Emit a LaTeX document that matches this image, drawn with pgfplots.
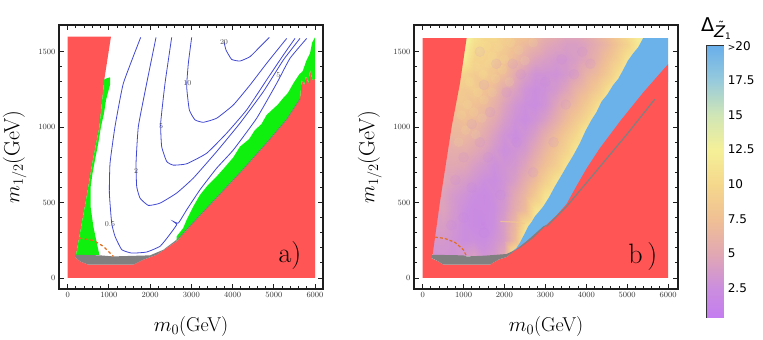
\documentclass[border=0pt]{standalone}
\usepackage{fontspec}
\usepackage{pgfplots}
\pgfplotsset{compat=1.18}
\newfontfamily\djv{DejaVu Sans}
\definecolor{cred}{RGB}{255,85,85}
\definecolor{cgreen}{RGB}{15,240,15}
\definecolor{cgray}{RGB}{128,128,128}
\definecolor{cblue}{RGB}{108,178,234}
\definecolor{ccont}{RGB}{65,72,210}
\definecolor{corange}{RGB}{226,110,30}
\definecolor{cframe}{RGB}{30,30,30}
\definecolor{cyel}{RGB}{248,238,150}
\definecolor{cpur}{RGB}{196,130,235}
\definecolor{cstreak}{RGB}{245,200,140}
\tikzset{clab/.style={font=\fontsize{7.5}{8}\selectfont,text=black!70,inner sep=0pt}}
\pgfplotsset{
  colormap={dz}{rgb255(36)=(196,125,240) rgb255(250)=(203,142,222) rgb255(500)=(226,168,178)
    rgb255(750)=(240,192,148) rgb255(1000)=(245,216,140) rgb255(1250)=(245,240,152)
    rgb255(1500)=(208,230,182) rgb255(1750)=(150,202,220) rgb255(2000)=(105,175,235)},
  panel/.style={
    scale only axis, width=264pt, height=264pt, anchor=south west,
    xmin=-211, ymin=-73, ymax=1677,
    xtick={0,1000,...,6000}, ytick={0,500,1000,1500},
    minor x tick num=4, minor y tick num=4,
    tick align=inside, major tick length=5pt, minor tick length=3pt,
    tick style={cframe,line width=0.9pt},
    axis line style={cframe,line width=1.4pt},
    scaled ticks=false, xticklabel style={/pgf/number format/1000 sep={}},
    yticklabel style={/pgf/number format/1000 sep={}},
    ticklabel style={font=\fontsize{8.5}{9}\selectfont,text=black!80},
    xlabel={$m_0$(GeV)}, ylabel={$m_{1/2}$(GeV)},
    xlabel style={font=\fontsize{20}{22}\selectfont,yshift=-12pt},
    ylabel style={font=\fontsize{22}{24}\selectfont,yshift=5pt},
    point meta min=0.36, point meta max=20,
    colormap name=dz, clip=true,
  },
  cont/.style={ccont,line width=0.8pt,smooth,tension=0.25},
}
\begin{document}
\begin{tikzpicture}[x=1pt,y=1pt]
\useasboundingbox (0,0) rectangle (763,340);

% panel a
\begin{axis}[panel, at={(59pt,51pt)}, xmax=6194]
\addplot[fill=cred,draw=none] coordinates {(0,0)(0,1600)(1050,1600)(889,1317)(768,1000)(610,783)(445,518)(299,298)(202,154)(178,139)(299,110)(501,88)(1593,88)(1836,121)(2159,154)(2644,243)(2968,342)(3534,507)(4180,695)(4827,893)(5312,1048)(5636,1185)(5676,1312)(5740,1280)(5780,1340)(5840,1290)(5880,1380)(5940,1310)(6000,1320)(6000,0)} -- cycle;
\addplot[fill=cgreen,draw=none] coordinates {(889,1317)(960,1325)(1027,1330)(1027,1280)(930,1180)(880,1090)(809,1004)(740,890)(663,783)(600,690)(558,607)(555,474)(622,342)(700,240)(768,154)(202,154)(299,298)(445,518)(610,783)(768,1000)} -- cycle;
\addplot[fill=cgreen,draw=none] coordinates {(2644,243)(2968,342)(3534,507)(4180,695)(4827,893)(5312,1048)(5636,1185)(5676,1312)(5740,1280)(5780,1340)(5840,1290)(5880,1380)(5940,1310)(6000,1320)(6000,1595)(5930,1560)(5879,1489)(5790,1440)(5700,1370)(5620,1350)(5474,1290)(5340,1225)(5250,1200)(5100,1150)(4827,1081)(4700,1020)(4540,980)(4400,920)(4180,871)(4019,800)(3800,730)(3614,673)(3400,615)(3210,551)(3060,480)(2968,430)(2887,386)(2800,330)(2644,276)} -- cycle;
\addplot[fill=cgray,draw=none] coordinates {(178,154)(784,150)(1108,143)(1997,150)(2320,187)(2644,254)(2644,243)(2159,154)(1836,121)(1593,88)(501,88)(299,110)(178,139)} -- cycle;
\addplot[cgray,line width=0.8pt] coordinates {(2644,250)(2968,345)(3534,510)(4180,698)(4827,896)(5312,1051)(5636,1188)};
\addplot[corange,line width=1.3pt,dash pattern=on 3pt off 2.5pt] coordinates {(283,265)(623,249)(865,210)(1108,143)};
\addplot[cont] coordinates {(1771,1595)(1350,1290)(1148,1004)(1027,761)(1011,563)(1067,364)(1148,276)(1310,188)(1553,165)(1916,172)(2240,210)(2442,276)(2644,353)(2563,375)(2685,364)(2887,452)(3210,585)(3614,728)(4019,849)(4585,1059)(5070,1290)(5393,1456)(5798,1588)};
\addplot[cont] coordinates {(2143,1595)(1916,1290)(1714,1004)(1658,761)(1674,607)(1755,529)(1957,481)(2240,496)(2644,563)(3048,662)(3614,838)(4180,1026)(4746,1235)(5232,1445)(5636,1588)};
\addplot[cont] coordinates {(2523,1595)(2361,1290)(2256,1026)(2280,871)(2402,772)(2563,748)(2887,757)(3372,827)(3857,960)(4342,1114)(4827,1313)(5232,1478)(5515,1588)};
\addplot[cont] coordinates {(3008,1595)(2927,1423)(2887,1268)(2951,1114)(3089,1048)(3291,1032)(3614,1059)(4019,1147)(4423,1279)(4827,1423)(5313,1588)};
\addplot[cont] coordinates {(3792,1566)(3841,1511)(3978,1449)(4180,1438)(4423,1467)(4666,1533)(4892,1595)};
\node[clab] at (axis cs:1027,357) {0.5};
\node[clab] at (axis cs:1658,706) {2};
\node[clab] at (axis cs:2264,1004) {5};
\node[clab] at (axis cs:2903,1290) {10};
\node[clab] at (axis cs:3792,1566) {20};
\node[clab] at (axis cs:5110,1345) {5};
\node[font=\fontsize{28}{28}\selectfont,inner sep=0pt] at (axis cs:5393,150) {a)};
\end{axis}

% panel b
\begin{axis}[panel, at={(414pt,51pt)}, xmax=6242]
\addplot[surf,shader=interp,mesh/cols=22,point meta=explicit] table[row sep=\\,x=x,y=y,meta=v]{
x y v\\
250 150 3\\ 500 150 3.2\\ 750 150 3\\ 1000 150 3.5\\ 1250 150 4\\ 1500 150 3\\ 1750 150 3.5\\ 2000 150 5\\ 2250 150 12\\ 2500 150 12\\ 2750 150 12\\ 3000 150 12\\ 3250 150 12\\ 3500 150 12\\ 3750 150 12\\ 4000 150 12\\ 4250 150 12\\ 4500 150 12\\ 4750 150 12\\ 5000 150 12\\ 5250 150 12\\ 5500 150 12\\
250 250 3.5\\ 500 250 3.5\\ 750 250 3\\ 1000 250 2.5\\ 1250 250 2.6\\ 1500 250 2.4\\ 1750 250 3\\ 2000 250 4\\ 2250 250 7\\ 2500 250 12\\ 2750 250 12\\ 3000 250 12\\ 3250 250 12\\ 3500 250 12\\ 3750 250 12\\ 4000 250 12\\ 4250 250 12\\ 4500 250 12\\ 4750 250 12\\ 5000 250 12\\ 5250 250 12\\ 5500 250 12\\
250 350 4\\ 500 350 4\\ 750 350 3.2\\ 1000 350 2.5\\ 1250 350 2\\ 1500 350 1.9\\ 1750 350 2.6\\ 2000 350 4\\ 2250 350 6.5\\ 2500 350 10.5\\ 2750 350 12\\ 3000 350 12\\ 3250 350 12\\ 3500 350 12\\ 3750 350 12\\ 4000 350 12\\ 4250 350 12\\ 4500 350 12\\ 4750 350 12\\ 5000 350 12\\ 5250 350 12\\ 5500 350 12\\
250 450 4\\ 500 450 4.5\\ 750 450 3.5\\ 1000 450 2.6\\ 1250 450 2\\ 1500 450 2.1\\ 1750 450 2.5\\ 2000 450 3.5\\ 2250 450 5.5\\ 2500 450 7\\ 2750 450 11\\ 3000 450 12\\ 3250 450 12\\ 3500 450 12\\ 3750 450 12\\ 4000 450 12\\ 4250 450 12\\ 4500 450 12\\ 4750 450 12\\ 5000 450 12\\ 5250 450 12\\ 5500 450 12\\
250 550 4.5\\ 500 550 4.5\\ 750 550 3.6\\ 1000 550 3\\ 1250 550 2.4\\ 1500 550 2\\ 1750 550 2.6\\ 2000 550 3.2\\ 2250 550 5\\ 2500 550 6.5\\ 2750 550 8.5\\ 3000 550 11\\ 3250 550 12\\ 3500 550 12\\ 3750 550 12\\ 4000 550 12\\ 4250 550 12\\ 4500 550 12\\ 4750 550 12\\ 5000 550 12\\ 5250 550 12\\ 5500 550 12\\
250 650 5\\ 500 650 5\\ 750 650 4.4\\ 1000 650 3.8\\ 1250 650 3.2\\ 1500 650 2.6\\ 1750 650 2.4\\ 2000 650 3\\ 2250 650 4\\ 2500 650 5.5\\ 2750 650 7\\ 3000 650 9\\ 3250 650 11\\ 3500 650 12\\ 3750 650 12\\ 4000 650 12\\ 4250 650 12\\ 4500 650 12\\ 4750 650 12\\ 5000 650 12\\ 5250 650 12\\ 5500 650 12\\
250 750 5\\ 500 750 5\\ 750 750 5\\ 1000 750 4.8\\ 1250 750 4\\ 1500 750 3.4\\ 1750 750 2.7\\ 2000 750 3\\ 2250 750 3.4\\ 2500 750 4.5\\ 2750 750 6\\ 3000 750 7.5\\ 3250 750 9\\ 3500 750 11\\ 3750 750 12\\ 4000 750 12\\ 4250 750 12\\ 4500 750 12\\ 4750 750 12\\ 5000 750 12\\ 5250 750 12\\ 5500 750 12\\
250 850 5.5\\ 500 850 5.5\\ 750 850 5.6\\ 1000 850 5.6\\ 1250 850 5\\ 1500 850 4.4\\ 1750 850 3.4\\ 2000 850 2.6\\ 2250 850 3\\ 2500 850 3.6\\ 2750 850 5\\ 3000 850 6.5\\ 3250 850 8\\ 3500 850 9.5\\ 3750 850 11.5\\ 4000 850 12\\ 4250 850 12\\ 4500 850 12\\ 4750 850 12\\ 5000 850 12\\ 5250 850 12\\ 5500 850 12\\
250 950 6\\ 500 950 6\\ 750 950 6.6\\ 1000 950 6.6\\ 1250 950 6\\ 1500 950 5.2\\ 1750 950 4.1\\ 2000 950 3\\ 2250 950 2.4\\ 2500 950 3\\ 2750 950 4\\ 3000 950 5.5\\ 3250 950 7\\ 3500 950 8.5\\ 3750 950 10\\ 4000 950 12\\ 4250 950 12\\ 4500 950 12\\ 4750 950 12\\ 5000 950 12\\ 5250 950 12\\ 5500 950 12\\
250 1050 7\\ 500 1050 7\\ 750 1050 7\\ 1000 1050 7.4\\ 1250 1050 7\\ 1500 1050 6\\ 1750 1050 5\\ 2000 1050 3.8\\ 2250 1050 2.8\\ 2500 1050 2.4\\ 2750 1050 3\\ 3000 1050 4\\ 3250 1050 5.5\\ 3500 1050 7\\ 3750 1050 8.5\\ 4000 1050 10\\ 4250 1050 12\\ 4500 1050 12\\ 4750 1050 12\\ 5000 1050 12\\ 5250 1050 12\\ 5500 1050 12\\
250 1150 8\\ 500 1150 8\\ 750 1150 8\\ 1000 1150 8.2\\ 1250 1150 7.6\\ 1500 1150 7\\ 1750 1150 5.8\\ 2000 1150 4.4\\ 2250 1150 3.2\\ 2500 1150 2.6\\ 2750 1150 2.4\\ 3000 1150 3\\ 3250 1150 4.5\\ 3500 1150 6\\ 3750 1150 7\\ 4000 1150 8.5\\ 4250 1150 10.5\\ 4500 1150 12\\ 4750 1150 12\\ 5000 1150 12\\ 5250 1150 12\\ 5500 1150 12\\
250 1250 9\\ 500 1250 9\\ 750 1250 9\\ 1000 1250 8.5\\ 1250 1250 8.8\\ 1500 1250 7.8\\ 1750 1250 6.8\\ 2000 1250 5.4\\ 2250 1250 4.2\\ 2500 1250 3\\ 2750 1250 2.5\\ 3000 1250 2.8\\ 3250 1250 3.5\\ 3500 1250 4.5\\ 3750 1250 6\\ 4000 1250 7\\ 4250 1250 8.5\\ 4500 1250 10.5\\ 4750 1250 12\\ 5000 1250 12\\ 5250 1250 12\\ 5500 1250 12\\
250 1350 10\\ 500 1350 10\\ 750 1350 10\\ 1000 1350 9.5\\ 1250 1350 8.6\\ 1500 1350 9\\ 1750 1350 8\\ 2000 1350 7\\ 2250 1350 5.2\\ 2500 1350 4\\ 2750 1350 3\\ 3000 1350 3\\ 3250 1350 2.9\\ 3500 1350 3.5\\ 3750 1350 4.5\\ 4000 1350 6\\ 4250 1350 7\\ 4500 1350 8.5\\ 4750 1350 10.5\\ 5000 1350 12\\ 5250 1350 12\\ 5500 1350 12\\
250 1450 12\\ 500 1450 12\\ 750 1450 12\\ 1000 1450 12\\ 1250 1450 9.6\\ 1500 1450 9.4\\ 1750 1450 9\\ 2000 1450 8\\ 2250 1450 6.8\\ 2500 1450 5.5\\ 2750 1450 4.5\\ 3000 1450 4\\ 3250 1450 3.5\\ 3500 1450 3.5\\ 3750 1450 4\\ 4000 1450 4.8\\ 4250 1450 6\\ 4500 1450 7.5\\ 4750 1450 9\\ 5000 1450 11\\ 5250 1450 12\\ 5500 1450 12\\
250 1550 13\\ 500 1550 13\\ 750 1550 13\\ 1000 1550 13\\ 1250 1550 10.5\\ 1500 1550 9.8\\ 1750 1550 9.4\\ 2000 1550 8.8\\ 2250 1550 7.6\\ 2500 1550 6.8\\ 2750 1550 6\\ 3000 1550 5\\ 3250 1550 4.5\\ 3500 1550 4\\ 3750 1550 4\\ 4000 1550 4.5\\ 4250 1550 5.5\\ 4500 1550 6.5\\ 4750 1550 8\\ 5000 1550 9.5\\ 5250 1550 11.5\\ 5500 1550 12\\
250 1590 14\\ 500 1590 14\\ 750 1590 14\\ 1000 1590 14\\ 1250 1590 11\\ 1500 1590 10\\ 1750 1590 10\\ 2000 1590 9\\ 2250 1590 8\\ 2500 1590 7.5\\ 2750 1590 6.5\\ 3000 1590 5.5\\ 3250 1590 5\\ 3500 1590 4.5\\ 3750 1590 4.5\\ 4000 1590 5\\ 4250 1590 6\\ 4500 1590 7\\ 4750 1590 8.5\\ 5000 1590 10\\ 5250 1590 12\\ 5500 1590 12\\
};
% blotches of the scan
\addplot[only marks,color=cyel,mark=*,mark size=4.5pt,mark options={solid,fill=cyel,draw=cyel,opacity=0.1}] coordinates {(1250,1560)(1420,1500)(1560,1540)(1700,1470)(1850,1530)(2000,1450)(2150,1560)(2350,1510)(1300,1400)(1480,1350)(1620,1420)(1780,1320)(1950,1380)(2120,1300)(1150,1300)(1350,1230)(1500,1180)(1700,1230)(1100,1150)(1250,1100)(1450,1060)(950,1080)(1050,980)(1300,950)(880,900)(2500,1440)(2700,1560)};
\addplot[only marks,color=cpur,mark=*,mark size=5pt,mark options={solid,fill=cpur,draw=cpur,opacity=0.1}] coordinates {(1500,1280)(1800,1420)(2200,1420)(2400,1350)(1400,1500)(2050,1230)(1650,1100)(1200,1020)(1400,900)(1000,800)(1600,800)(800,650)(1200,600)(2300,900)(3000,1300)(3400,1450)(3700,1350)(3500,1150)(3200,900)(2700,700)(1900,550)(1000,400)(700,350)(1500,300)(3900,1500)(4100,1420)};
\addplot[draw=none,fill=cblue] coordinates {(5389,1590)(5270,1530)(5145,1489)(5015,1440)(4900,1379)(4780,1320)(4656,1279)(4510,1215)(4371,1169)(4250,1100)(4127,1048)(3980,975)(3842,893)(3680,812)(3517,739)(3375,672)(3232,607)(3090,535)(2947,474)(2845,440)(2743,408)(2660,370)(2580,342)(2458,276)(2370,230)(2295,199)(2133,165)(2133,140)(3100,300)(6000,1300)(6000,1590)} -- cycle;
\addplot[cstreak,line width=1.2pt,opacity=0.7] coordinates {(1900,375)(2300,370)(2500,360)};
\addplot[fill=cred,draw=none] coordinates {(0,0)(0,1590)(1075,1590)(912,1290)(708,1000)(423,503)(244,154)(220,130)(383,110)(505,88)(1645,88)(1848,121)(2051,139)(2540,243)(3029,353)(3272,415)(3517,490)(3761,610)(4005,725)(4330,860)(4819,1037)(5389,1229)(6000,1418)(6000,0)} -- cycle;
\addplot[fill=cgray,draw=none] coordinates {(220,154)(993,150)(1075,143)(1522,148)(2051,159)(2378,199)(2702,265)(3029,353)(2947,342)(2540,243)(2051,139)(1848,121)(1645,88)(505,88)(383,110)(220,132)} -- cycle;
\addplot[cgray,line width=1.2pt] coordinates {(3028,342)(3517,474)(4168,684)(4982,949)(5674,1185)};
\addplot[corange,line width=1.2pt,dash pattern=on 3pt off 2pt] coordinates {(301,271)(545,262)(790,236)(993,188)(1075,143)};
\node[font=\fontsize{28}{28}\selectfont,inner sep=0pt] at (axis cs:5380,145) {b\,)};
\end{axis}

% colour bar
\begin{axis}[scale only axis, width=16.5pt, height=272pt, anchor=south west, at={(706.8pt,22.3pt)},
  xmin=0, xmax=1, ymin=0.36, ymax=20,
  xtick=\empty, ytick={2.5,5,7.5,10,12.5,15,17.5,20},
  yticklabels={2.5,5,7.5,10,12.5,15,17.5,{{\fontsize{9}{9}\selectfont>}20}},
  ytick pos=right, yticklabel pos=right, tick align=inside, major tick length=16.5pt,
  tick style={black!65,line width=0.7pt},
  axis line style={black!80,line width=0.9pt},
  yticklabel style={font=\djv\fontsize{12}{12}\selectfont,anchor=west,xshift=1pt},
  point meta min=0.36, point meta max=20, colormap name=dz]
\addplot[surf,shader=interp,mesh/cols=2,point meta=y] table[row sep=\\]{
x y\\
0 0.36\\ 1 0.36\\
0 2.5\\ 1 2.5\\
0 5\\ 1 5\\
0 7.5\\ 1 7.5\\
0 10\\ 1 10\\
0 12.5\\ 1 12.5\\
0 15\\ 1 15\\
0 17.5\\ 1 17.5\\
0 20\\ 1 20\\
};
\end{axis}
\node[font=\djv\fontsize{19}{19}\selectfont,inner sep=0pt,anchor=base west] at (701,308) {Δ\raisebox{-6pt}{\fontsize{16}{16}\selectfont\itshape\rlap{\raisebox{7pt}{\hspace{3pt}\fontsize{12}{12}\selectfont ˜}}Z}\raisebox{-8pt}{\fontsize{9}{9}\selectfont 1}};
\end{tikzpicture}
\end{document}
